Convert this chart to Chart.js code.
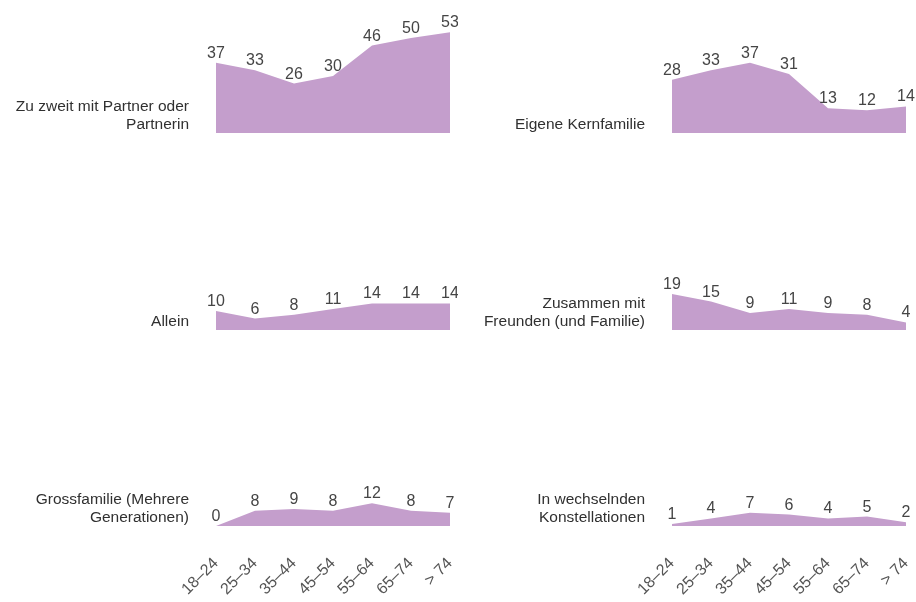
<!DOCTYPE html>
<html>
<head>
<meta charset="utf-8">
<script src="https://cdn.jsdelivr.net/npm/chart.js@4"></script>
<style>
  html, body { margin: 0; padding: 0; background: #fff; }
  #wrap { position: relative; width: 916px; height: 602px; overflow: hidden; }
  .panel { position: absolute; }
</style>
</head>
<body>
<div id="wrap"></div>
<script>
const ageGroups = ["18–24", "25–34", "35–44", "45–54", "55–64", "65–74", "> 74"];

const zuZweit = [37, 33, 26, 30, 46, 50, 53];
const kernfamilie = [28, 33, 37, 31, 13, 12, 14];
const allein = [10, 6, 8, 11, 14, 14, 14];
const freunde = [19, 15, 9, 11, 9, 8, 4];
const grossfamilie = [0, 8, 9, 8, 12, 8, 7];
const wechselnd = [1, 4, 7, 6, 4, 5, 2];

const panelTitles = [
  ["Zu zweit mit Partner oder", "Partnerin"],
  ["Eigene Kernfamilie"],
  ["Allein"],
  ["Zusammen mit", "Freunden (und Familie)"],
  ["Grossfamilie (Mehrere", "Generationen)"],
  ["In wechselnden", "Konstellationen"]
];
const panelValues = [zuZweit, kernfamilie, allein, freunde, grossfamilie, wechselnd];

const FONT = '"Liberation Sans", Arial, Helvetica, sans-serif';
const FILL = "#c49ecc";

// value labels above the points + the row title left of each panel
const panelText = {
  id: "panelText",
  afterDatasetsDraw(chart, args, opts) {
    const ctx = chart.ctx;
    const area = chart.chartArea;
    const meta = chart.getDatasetMeta(0);
    const values = chart.data.datasets[0].data;
    ctx.save();
    ctx.fillStyle = "#454545";
    ctx.font = "16px " + FONT;
    ctx.textAlign = "center";
    ctx.textBaseline = "alphabetic";
    meta.data.forEach((pt, j) => {
      ctx.fillText(String(values[j]), pt.x, pt.y - 5);
    });
    ctx.fillStyle = "#303030";
    ctx.font = "15.5px " + FONT;
    ctx.textAlign = "right";
    ctx.textBaseline = "middle";
    const lines = opts.lines || [];
    lines.forEach((ln, k) => {
      ctx.fillText(ln, area.left - 27, area.bottom - 8 - (lines.length - 1 - k) * 18);
    });
    ctx.restore();
  }
};

const wrap = document.getElementById("wrap");

panelValues.forEach((values, i) => {
  const col = i % 2;
  const row = Math.floor(i / 2);
  const bottomRow = row === 2;
  const w = 458;
  const h = bottomRow ? 208 : 197;

  const div = document.createElement("div");
  div.className = "panel";
  div.style.left = col * 458 + "px";
  div.style.top = row * 197 + "px";
  div.style.width = w + "px";
  div.style.height = h + "px";
  const canvas = document.createElement("canvas");
  canvas.width = w;
  canvas.height = h;
  div.appendChild(canvas);
  wrap.appendChild(div);

  new Chart(canvas, {
    type: "line",
    data: {
      labels: ageGroups,
      datasets: [{
        data: values,
        fill: "origin",
        backgroundColor: FILL,
        borderWidth: 0,
        pointRadius: 0,
        tension: 0,
        clip: false
      }]
    },
    plugins: [panelText],
    options: {
      responsive: false,
      animation: false,
      devicePixelRatio: 1,
      layout: {
        padding: {
          left: col === 0 ? 216 : 214,
          right: col === 0 ? 8 : 10,
          top: bottomRow ? 18 : 19,
          bottom: bottomRow ? 6 : 64
        }
      },
      plugins: {
        legend: { display: false },
        tooltip: { enabled: false },
        panelText: { lines: panelTitles[i] }
      },
      scales: {
        x: {
          display: bottomRow,
          offset: false,
          border: { display: false },
          grid: { display: false, drawTicks: false },
          ticks: {
            color: "#555",
            font: { family: FONT, size: 16 },
            minRotation: 45,
            maxRotation: 45,
            padding: 28,
            autoSkip: false
          },
          afterFit(axis) {
            if (bottomRow) {
              axis.height = 70;
              axis.paddingLeft = 0;
              axis.paddingRight = 0;
            }
          }
        },
        y: {
          display: false,
          min: 0,
          max: 60
        }
      }
    }
  });
});
</script>
</body>
</html>
